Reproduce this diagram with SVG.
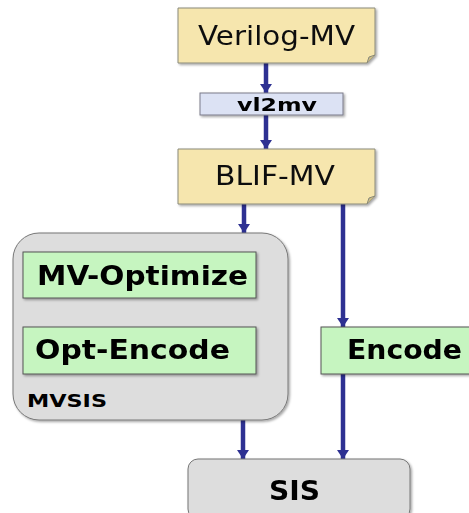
<svg xmlns="http://www.w3.org/2000/svg" width="469" height="513" viewBox="0 0 469 513">
<defs>
<marker id="ah" markerWidth="9" markerHeight="12" refX="9" refY="6" orient="auto" markerUnits="userSpaceOnUse" viewBox="0 0 9 12">
<path d="M0,0 L9,6 L0,12 Z" fill="#2E3192"/>
</marker>
<filter id="sh" x="-5%" y="-5%" width="115%" height="120%">
<feDropShadow dx="1.5" dy="1.5" stdDeviation="0.8" flood-color="#000" flood-opacity="0.35"/>
</filter>
</defs>
<style>
.note{fill:#F6E6AE;stroke:#8A8A7A;stroke-width:1}
.tool{fill:#DCE2F4;stroke:#7A7A8A;stroke-width:1}
.grn{fill:#C6F5C0;stroke:#555;stroke-width:1}
.gry{fill:#DDDDDD;stroke:#777;stroke-width:1}
.reg{font-family:"DejaVu Sans",Verdana,sans-serif;font-size:26px;fill:#111}
.bld{font-family:"DejaVu Sans",Verdana,sans-serif;font-weight:bold;fill:#000}
.conn{stroke:#2E3192;stroke-width:4.5;fill:none;marker-end:url(#ah)}
</style>
<g id="connectors">
<line class="conn" x1="266" y1="63" x2="266" y2="93"/>
<line class="conn" x1="266" y1="115" x2="266" y2="149"/>
<line class="conn" x1="244" y1="204" x2="244" y2="233"/>
<line class="conn" x1="343" y1="204" x2="343" y2="327"/>
<line class="conn" x1="243" y1="420" x2="243" y2="459"/>
<line class="conn" x1="343" y1="374" x2="343" y2="459"/>
</g>
<g id="verilog-mv" filter="url(#sh)">
<path class="note" d="M178,8 H375 V55 L367,63 H178 Z"/>
<path d="M367,63 L369,57 L375,55" fill="#C9BB86" stroke="#8A8A7A" stroke-width="1"/>
<text class="reg" x="276.5" y="45" text-anchor="middle" textLength="157" lengthAdjust="spacingAndGlyphs">Verilog-MV</text>
</g>
<g id="vl2mv" filter="url(#sh)">
<rect class="tool" x="200" y="93" width="143" height="22"/>
<text class="bld" x="277" y="110.5" font-size="18" text-anchor="middle" textLength="80" lengthAdjust="spacingAndGlyphs">vl2mv</text>
</g>
<g id="blif-mv" filter="url(#sh)">
<path class="note" d="M178,149 H375 V196 L367,204 H178 Z"/>
<path d="M367,204 L369,198 L375,196" fill="#C9BB86" stroke="#8A8A7A" stroke-width="1"/>
<text class="reg" x="275" y="185" text-anchor="middle" textLength="120" lengthAdjust="spacingAndGlyphs">BLIF-MV</text>
</g>
<g id="mvsis">
<rect class="gry" x="13" y="233" width="275" height="187" rx="26" ry="26" filter="url(#sh)"/>
<text class="bld" x="27" y="407" font-size="17" textLength="80" lengthAdjust="spacingAndGlyphs">MVSIS</text>
</g>
<g id="mv-optimize" filter="url(#sh)">
<rect class="grn" x="23" y="252" width="233" height="46"/>
<text class="bld" x="37" y="285" font-size="26" textLength="211" lengthAdjust="spacingAndGlyphs">MV-Optimize</text>
</g>
<g id="opt-encode" filter="url(#sh)">
<rect class="grn" x="23" y="327" width="233" height="47"/>
<text class="bld" x="35" y="359" font-size="26" textLength="195" lengthAdjust="spacingAndGlyphs">Opt-Encode</text>
</g>
<g id="encode" filter="url(#sh)">
<rect class="grn" x="321" y="327" width="152" height="47"/>
<text class="bld" x="347" y="359" font-size="26" textLength="115" lengthAdjust="spacingAndGlyphs">Encode</text>
</g>
<g id="sis" filter="url(#sh)">
<rect class="gry" x="188" y="459" width="222" height="60" rx="10" ry="10"/>
<text class="bld" x="294.5" y="500" font-size="26" text-anchor="middle" textLength="51" lengthAdjust="spacingAndGlyphs">SIS</text>
</g>
</svg>
